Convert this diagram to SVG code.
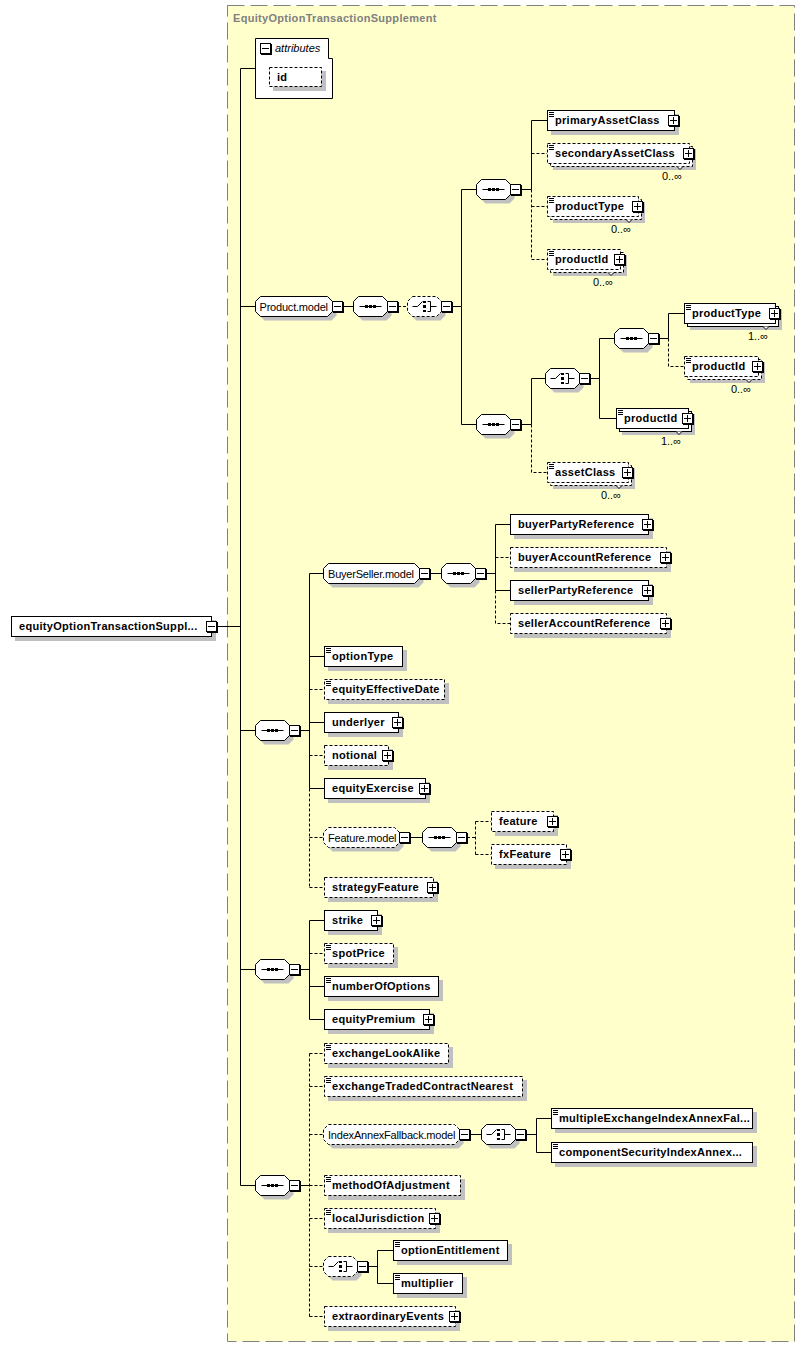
<svg xmlns="http://www.w3.org/2000/svg" xmlns:xlink="http://www.w3.org/1999/xlink" width="806" height="1348" viewBox="0 0 806 1348">
<style>
.sh{fill:#c0c0c0}
.el{fill:#fff;stroke:#000}
.dsh{stroke-dasharray:3 2}
.t{font-family:"Liberation Sans",Arial,sans-serif;font-size:11px;font-weight:bold;letter-spacing:0.3px;fill:#000}
.m{font-family:"Liberation Sans",Arial,sans-serif;font-size:11px;letter-spacing:-0.2px;fill:#000}
.ln{fill:none;stroke:#000}
.dl{fill:none;stroke:#000;stroke-dasharray:3 2}
.ntc{fill:#fff;stroke:#000}
</style>
<defs>
<polygon id="oct" points="5,0 29,0 34,5 34,15 29,20 5,20 0,15 0,5"/>
<polygon id="octPM" points="5,0 72,0 77,5 77,15 72,20 5,20 0,15 0,5"/>
<polygon id="octBS" points="5,0 91,0 96,5 96,15 91,20 5,20 0,15 0,5"/>
<polygon id="octFM" points="5,0 71,0 76,5 76,15 71,20 5,20 0,15 0,5"/>
<polygon id="octIA" points="5,0 131,0 136,5 136,15 131,20 5,20 0,15 0,5"/>
<g id="seqs"><path d="M6 10H28" stroke="#000" fill="none"/><rect x="11.5" y="8.5" width="3" height="3"/><rect x="15.5" y="8.5" width="3" height="3"/><rect x="19.5" y="8.5" width="3" height="3"/></g>
<g id="chs"><path d="M5 10H10L15 5M20 5H23V15H20M23 10H29" stroke="#000" fill="none"/><rect x="15.5" y="4.5" width="3" height="2"/><rect x="15.5" y="8.5" width="3" height="3"/><rect x="15.5" y="13.5" width="3" height="2"/></g>
<g id="mb"><rect x="1" y="1" width="11" height="11" fill="#000"/><rect x="0.5" y="0.5" width="10" height="10" fill="#fff" stroke="#000"/><path d="M2 5.5H9" stroke="#000"/></g>
<g id="pb"><rect x="1" y="1" width="11" height="11" fill="#000"/><rect x="0.5" y="0.5" width="10" height="10" fill="#fff" stroke="#000"/><path d="M2 5.5H9M5.5 2V9" stroke="#000"/></g>
<g id="doc"><path d="M2 2.5H7M2 4.5H7M2 6.5H7" stroke="#000"/></g>
</defs>

<rect x="0" y="0" width="806" height="1348" fill="#fff"/>
<g id="frame">
<rect x="227.5" y="5.5" width="567" height="1336" fill="#ffffcc" stroke="#808080" stroke-dasharray="17 6"/>
<text class="t" x="233" y="22" style="fill:#808080">EquityOptionTransactionSupplement</text>
</g>

<g id="connectors">
<path class="ln" d="M217 626.5H240.5M240.5 68.5V1185.5M240.5 68.5H255M240.5 306.5H255.5M240.5 730.5H255.5M240.5 969.5H255.5M240.5 1185.5H255.5"/>
<path class="ln" d="M343 306.5H353.5M452 306.5H461.5V189.5H476.5M461.5 306.5V424.5H476.5M521 189.5H531.5V120.5H547M521 424.5H531.5V378.5H545.5M590 378.5H599.5V338.5H614.5M599.5 378.5V418.5H616M659 338.5H668.5V313.5H684"/>
<path class="dl" d="M398 306.5H407.5M531.5 189.5V259.5M531.5 153.5H547M531.5 206.5H547M531.5 259.5H547M531.5 424.5V472.5H547M668.5 338.5V366.5H684"/>
<path class="ln" d="M300 730.5H309.5M309.5 573.5V788.5M309.5 573.5H323.5M309.5 656.5H324M309.5 722.5H324M309.5 788.5H324M430 573.5H441.5M486 573.5H495.5M495.5 524.5V590.5M495.5 524.5H510M495.5 590.5H510M410 837.5H422.5"/>
<path class="dl" d="M309.5 788.5V887.5M309.5 689.5H324M309.5 755.5H324M309.5 837.5H323.5M309.5 887.5H324M495.5 557.5H510M495.5 590.5V623.5H510M467 837.5H475.5M475.5 821.5V854.5M475.5 821.5H491M475.5 854.5H491"/>
<path class="ln" d="M300 969.5H309.5M309.5 920.5V1019.5M309.5 920.5H324M309.5 986.5H324M309.5 1019.5H324"/>
<path class="dl" d="M309.5 953.5H324"/>
<path class="ln" d="M300 1185.5H309.5M470 1134.5H481.5M526 1134.5H536.5M536.5 1118.5V1152.5M536.5 1118.5H551M536.5 1152.5H551M368 1266.5H377.5M377.5 1250.5V1283.5M377.5 1250.5H393M377.5 1283.5H393"/>
<path class="dl" d="M309.5 1053.5V1316.5M309.5 1053.5H324M309.5 1086.5H324M309.5 1134.5H323.5M309.5 1185.5H324M309.5 1218.5H324M309.5 1266.5H323.5M309.5 1316.5H324"/>
</g>

<g id="root">
<rect class="sh" x="15" y="620" width="201" height="21"/>
<rect class="el" x="11.5" y="616.5" width="200" height="20"/>
<text class="t" x="19" y="630">equityOptionTransactionSuppl...</text>
<use href="#mb" x="206" y="621"/>
</g>

<g id="attributes">
<polygon class="el" points="255.5,38.5 328.5,38.5 328.5,58.5 332.5,58.5 332.5,98.5 255.5,98.5"/>
<use href="#mb" x="260" y="43"/>
<text class="m" x="275" y="52" font-style="italic" style="letter-spacing:0">attributes</text>
<rect class="sh" x="273" y="71" width="53" height="20"/>
<rect class="el dsh" x="269.5" y="67.5" width="52" height="19"/>
<text class="t" x="277" y="81">id</text>
</g>

<g id="ProductModel">
<use href="#octPM" x="259.5" y="300.5" class="sh"/>
<use href="#octPM" x="255.5" y="296.5" class="el"/>
<text class="m" x="259.5" y="310.5">Product.model</text>
<use href="#mb" x="332" y="301"/>
</g>
<g id="seqA"><use href="#oct" x="357.5" y="300.5" class="sh"/><use href="#oct" x="353.5" y="296.5" class="el"/><use href="#seqs" x="353.5" y="296.5"/><use href="#mb" x="387" y="301"/></g>
<g id="choiceB"><use href="#oct" x="411.5" y="300.5" class="sh"/><use href="#oct" x="407.5" y="296.5" class="el dsh"/><use href="#chs" x="407.5" y="296.5"/><use href="#mb" x="441" y="301"/></g>
<g id="seqC"><use href="#oct" x="480.5" y="183.5" class="sh"/><use href="#oct" x="476.5" y="179.5" class="el"/><use href="#seqs" x="476.5" y="179.5"/><use href="#mb" x="510" y="184"/></g>
<g id="seqD"><use href="#oct" x="480.5" y="418.5" class="sh"/><use href="#oct" x="476.5" y="414.5" class="el"/><use href="#seqs" x="476.5" y="414.5"/><use href="#mb" x="510" y="419"/></g>
<g id="choiceE"><use href="#oct" x="549.5" y="372.5" class="sh"/><use href="#oct" x="545.5" y="368.5" class="el"/><use href="#chs" x="545.5" y="368.5"/><use href="#mb" x="579" y="373"/></g>
<g id="seqF"><use href="#oct" x="618.5" y="332.5" class="sh"/><use href="#oct" x="614.5" y="328.5" class="el"/><use href="#seqs" x="614.5" y="328.5"/><use href="#mb" x="648" y="333"/></g>

<g id="primaryAssetClass"><rect class="sh" x="551" y="114" width="128" height="21"/><rect class="el" x="547.5" y="110.5" width="127" height="20"/><use href="#doc" x="547" y="110"/><text class="t" x="555" y="124">primaryAssetClass</text><use href="#pb" x="668" y="115"/></g>
<g id="secondaryAssetClass"><rect class="sh" x="553" y="149" width="143" height="21"/><rect class="el dsh" x="550.5" y="146.5" width="142" height="20"/><rect class="el dsh" x="547.5" y="143.5" width="142" height="20"/><use href="#doc" x="547" y="143"/><text class="t" x="555" y="157">secondaryAssetClass</text><use href="#pb" x="683" y="148"/><polyline class="ntc" points="677,166.5 680,169.5 683,166.5"/><text class="m" x="682" y="180" text-anchor="end" style="letter-spacing:0">0..∞</text></g>
<g id="productType1"><rect class="sh" x="553" y="202" width="92" height="21"/><rect class="el dsh" x="550.5" y="199.5" width="91" height="20"/><rect class="el dsh" x="547.5" y="196.5" width="91" height="20"/><use href="#doc" x="547" y="196"/><text class="t" x="555" y="210">productType</text><use href="#pb" x="632" y="201"/><polyline class="ntc" points="626,219.5 629,222.5 632,219.5"/><text class="m" x="631" y="233" text-anchor="end" style="letter-spacing:0">0..∞</text></g>
<g id="productId1"><rect class="sh" x="553" y="255" width="74" height="21"/><rect class="el dsh" x="550.5" y="252.5" width="73" height="20"/><rect class="el dsh" x="547.5" y="249.5" width="73" height="20"/><use href="#doc" x="547" y="249"/><text class="t" x="555" y="263">productId</text><use href="#pb" x="614" y="254"/><polyline class="ntc" points="608,272.5 611,275.5 614,272.5"/><text class="m" x="613" y="286" text-anchor="end" style="letter-spacing:0">0..∞</text></g>
<g id="productType2"><rect class="sh" x="690" y="309" width="92" height="21"/><rect class="el" x="687.5" y="306.5" width="91" height="20"/><rect class="el" x="684.5" y="303.5" width="91" height="20"/><use href="#doc" x="684" y="303"/><text class="t" x="692" y="317">productType</text><use href="#pb" x="769" y="308"/><polyline class="ntc" points="763,326.5 766,329.5 769,326.5"/><text class="m" x="768" y="340" text-anchor="end" style="letter-spacing:0">1..∞</text></g>
<g id="productId2"><rect class="sh" x="690" y="362" width="75" height="21"/><rect class="el dsh" x="687.5" y="359.5" width="74" height="20"/><rect class="el dsh" x="684.5" y="356.5" width="74" height="20"/><use href="#doc" x="684" y="356"/><text class="t" x="692" y="370">productId</text><use href="#pb" x="752" y="361"/><polyline class="ntc" points="746,379.5 749,382.5 752,379.5"/><text class="m" x="751" y="393" text-anchor="end" style="letter-spacing:0">0..∞</text></g>
<g id="productId3"><rect class="sh" x="622" y="414" width="73" height="21"/><rect class="el" x="619.5" y="411.5" width="72" height="20"/><rect class="el" x="616.5" y="408.5" width="72" height="20"/><use href="#doc" x="616" y="408"/><text class="t" x="624" y="422">productId</text><use href="#pb" x="682" y="413"/><polyline class="ntc" points="676,431.5 679,434.5 682,431.5"/><text class="m" x="681" y="445" text-anchor="end" style="letter-spacing:0">1..∞</text></g>
<g id="assetClass"><rect class="sh" x="553" y="468" width="82" height="21"/><rect class="el dsh" x="550.5" y="465.5" width="81" height="20"/><rect class="el dsh" x="547.5" y="462.5" width="81" height="20"/><use href="#doc" x="547" y="462"/><text class="t" x="555" y="476">assetClass</text><use href="#pb" x="622" y="467"/><polyline class="ntc" points="616,485.5 619,488.5 622,485.5"/><text class="m" x="621" y="499" text-anchor="end" style="letter-spacing:0">0..∞</text></g>

<g id="seqG"><use href="#oct" x="259.5" y="724.5" class="sh"/><use href="#oct" x="255.5" y="720.5" class="el"/><use href="#seqs" x="255.5" y="720.5"/><use href="#mb" x="289" y="725"/></g>
<g id="BuyerSellerModel">
<use href="#octBS" x="327.5" y="567.5" class="sh"/>
<use href="#octBS" x="323.5" y="563.5" class="el"/>
<text class="m" x="328" y="577.5">BuyerSeller.model</text>
<use href="#mb" x="419" y="568"/>
</g>
<g id="seqH"><use href="#oct" x="445.5" y="567.5" class="sh"/><use href="#oct" x="441.5" y="563.5" class="el"/><use href="#seqs" x="441.5" y="563.5"/><use href="#mb" x="475" y="568"/></g>
<g id="buyerPartyReference"><rect class="sh" x="514" y="518" width="139" height="21"/><rect class="el" x="510.5" y="514.5" width="138" height="20"/><text class="t" x="518" y="528">buyerPartyReference</text><use href="#pb" x="642" y="519"/></g>
<g id="buyerAccountReference"><rect class="sh" x="514" y="551" width="157" height="21"/><rect class="el dsh" x="510.5" y="547.5" width="156" height="20"/><text class="t" x="518" y="561">buyerAccountReference</text><use href="#pb" x="660" y="552"/></g>
<g id="sellerPartyReference"><rect class="sh" x="514" y="584" width="139" height="21"/><rect class="el" x="510.5" y="580.5" width="138" height="20"/><text class="t" x="518" y="594">sellerPartyReference</text><use href="#pb" x="642" y="585"/></g>
<g id="sellerAccountReference"><rect class="sh" x="514" y="617" width="157" height="21"/><rect class="el dsh" x="510.5" y="613.5" width="156" height="20"/><text class="t" x="518" y="627">sellerAccountReference</text><use href="#pb" x="660" y="618"/></g>
<g id="optionType"><rect class="sh" x="328" y="650" width="79" height="21"/><rect class="el" x="324.5" y="646.5" width="78" height="20"/><use href="#doc" x="324" y="646"/><text class="t" x="332" y="660">optionType</text></g>
<g id="equityEffectiveDate"><rect class="sh" x="328" y="683" width="121" height="21"/><rect class="el dsh" x="324.5" y="679.5" width="120" height="20"/><use href="#doc" x="324" y="679"/><text class="t" x="332" y="693">equityEffectiveDate</text></g>
<g id="underlyer"><rect class="sh" x="328" y="716" width="75" height="21"/><rect class="el" x="324.5" y="712.5" width="74" height="20"/><text class="t" x="332" y="726">underlyer</text><use href="#pb" x="392" y="717"/></g>
<g id="notional"><rect class="sh" x="328" y="749" width="65" height="21"/><rect class="el dsh" x="324.5" y="745.5" width="64" height="20"/><text class="t" x="332" y="759">notional</text><use href="#pb" x="382" y="750"/></g>
<g id="equityExercise"><rect class="sh" x="328" y="782" width="102" height="21"/><rect class="el" x="324.5" y="778.5" width="101" height="20"/><text class="t" x="332" y="792">equityExercise</text><use href="#pb" x="419" y="783"/></g>
<g id="FeatureModel">
<use href="#octFM" x="327.5" y="831.5" class="sh"/>
<use href="#octFM" x="323.5" y="827.5" class="el dsh"/>
<text class="m" x="328" y="841.5">Feature.model</text>
<use href="#mb" x="399" y="832"/>
</g>
<g id="seqI"><use href="#oct" x="426.5" y="831.5" class="sh"/><use href="#oct" x="422.5" y="827.5" class="el"/><use href="#seqs" x="422.5" y="827.5"/><use href="#mb" x="456" y="832"/></g>
<g id="feature"><rect class="sh" x="495" y="815" width="63" height="21"/><rect class="el dsh" x="491.5" y="811.5" width="62" height="20"/><text class="t" x="499" y="825">feature</text><use href="#pb" x="547" y="816"/></g>
<g id="fxFeature"><rect class="sh" x="495" y="848" width="76" height="21"/><rect class="el dsh" x="491.5" y="844.5" width="75" height="20"/><text class="t" x="499" y="858">fxFeature</text><use href="#pb" x="560" y="849"/></g>
<g id="strategyFeature"><rect class="sh" x="328" y="881" width="110" height="21"/><rect class="el dsh" x="324.5" y="877.5" width="109" height="20"/><text class="t" x="332" y="891">strategyFeature</text><use href="#pb" x="427" y="882"/></g>

<g id="seqJ"><use href="#oct" x="259.5" y="963.5" class="sh"/><use href="#oct" x="255.5" y="959.5" class="el"/><use href="#seqs" x="255.5" y="959.5"/><use href="#mb" x="289" y="964"/></g>
<g id="strike"><rect class="sh" x="328" y="914" width="54" height="21"/><rect class="el" x="324.5" y="910.5" width="53" height="20"/><text class="t" x="332" y="924">strike</text><use href="#pb" x="371" y="915"/></g>
<g id="spotPrice"><rect class="sh" x="328" y="947" width="70" height="21"/><rect class="el dsh" x="324.5" y="943.5" width="69" height="20"/><use href="#doc" x="324" y="943"/><text class="t" x="332" y="957">spotPrice</text></g>
<g id="numberOfOptions"><rect class="sh" x="328" y="980" width="115" height="21"/><rect class="el" x="324.5" y="976.5" width="114" height="20"/><use href="#doc" x="324" y="976"/><text class="t" x="332" y="990">numberOfOptions</text></g>
<g id="equityPremium"><rect class="sh" x="328" y="1013" width="106" height="21"/><rect class="el" x="324.5" y="1009.5" width="105" height="20"/><text class="t" x="332" y="1023">equityPremium</text><use href="#pb" x="423" y="1014"/></g>

<g id="seqK"><use href="#oct" x="259.5" y="1179.5" class="sh"/><use href="#oct" x="255.5" y="1175.5" class="el"/><use href="#seqs" x="255.5" y="1175.5"/><use href="#mb" x="289" y="1180"/></g>
<g id="exchangeLookAlike"><rect class="sh" x="328" y="1047" width="125" height="21"/><rect class="el dsh" x="324.5" y="1043.5" width="124" height="20"/><use href="#doc" x="324" y="1043"/><text class="t" x="332" y="1057">exchangeLookAlike</text></g>
<g id="exchangeTradedContractNearest"><rect class="sh" x="328" y="1080" width="199" height="21"/><rect class="el dsh" x="324.5" y="1076.5" width="198" height="20"/><use href="#doc" x="324" y="1076"/><text class="t" x="332" y="1090">exchangeTradedContractNearest</text></g>
<g id="IndexAnnexFallbackModel">
<use href="#octIA" x="327.5" y="1128.5" class="sh"/>
<use href="#octIA" x="323.5" y="1124.5" class="el dsh"/>
<text class="m" x="328" y="1138.5">IndexAnnexFallback.model</text>
<use href="#mb" x="459" y="1129"/>
</g>
<g id="choiceL"><use href="#oct" x="485.5" y="1128.5" class="sh"/><use href="#oct" x="481.5" y="1124.5" class="el"/><use href="#chs" x="481.5" y="1124.5"/><use href="#mb" x="515" y="1129"/></g>
<g id="multipleExchangeIndexAnnexFallback"><rect class="sh" x="555" y="1112" width="202" height="21"/><rect class="el" x="551.5" y="1108.5" width="201" height="20"/><use href="#doc" x="551" y="1108"/><text class="t" x="559" y="1122">multipleExchangeIndexAnnexFal...</text></g>
<g id="componentSecurityIndexAnnexFallback"><rect class="sh" x="555" y="1146" width="202" height="21"/><rect class="el" x="551.5" y="1142.5" width="201" height="20"/><use href="#doc" x="551" y="1142"/><text class="t" x="559" y="1156">componentSecurityIndexAnnex...</text></g>
<g id="methodOfAdjustment"><rect class="sh" x="328" y="1179" width="137" height="21"/><rect class="el dsh" x="324.5" y="1175.5" width="136" height="20"/><use href="#doc" x="324" y="1175"/><text class="t" x="332" y="1189">methodOfAdjustment</text></g>
<g id="localJurisdiction"><rect class="sh" x="328" y="1212" width="112" height="21"/><rect class="el dsh" x="324.5" y="1208.5" width="111" height="20"/><use href="#doc" x="324" y="1208"/><text class="t" x="332" y="1222">localJurisdiction</text><use href="#pb" x="429" y="1213"/></g>
<g id="choiceM"><use href="#oct" x="327.5" y="1260.5" class="sh"/><use href="#oct" x="323.5" y="1256.5" class="el dsh"/><use href="#chs" x="323.5" y="1256.5"/><use href="#mb" x="357" y="1261"/></g>
<g id="optionEntitlement"><rect class="sh" x="397" y="1244" width="115" height="21"/><rect class="el" x="393.5" y="1240.5" width="114" height="20"/><use href="#doc" x="393" y="1240"/><text class="t" x="401" y="1254">optionEntitlement</text></g>
<g id="multiplier"><rect class="sh" x="397" y="1277" width="70" height="21"/><rect class="el" x="393.5" y="1273.5" width="69" height="20"/><use href="#doc" x="393" y="1273"/><text class="t" x="401" y="1287">multiplier</text></g>
<g id="extraordinaryEvents"><rect class="sh" x="328" y="1310" width="132" height="21"/><rect class="el dsh" x="324.5" y="1306.5" width="131" height="20"/><text class="t" x="332" y="1320">extraordinaryEvents</text><use href="#pb" x="449" y="1311"/></g>
</svg>
